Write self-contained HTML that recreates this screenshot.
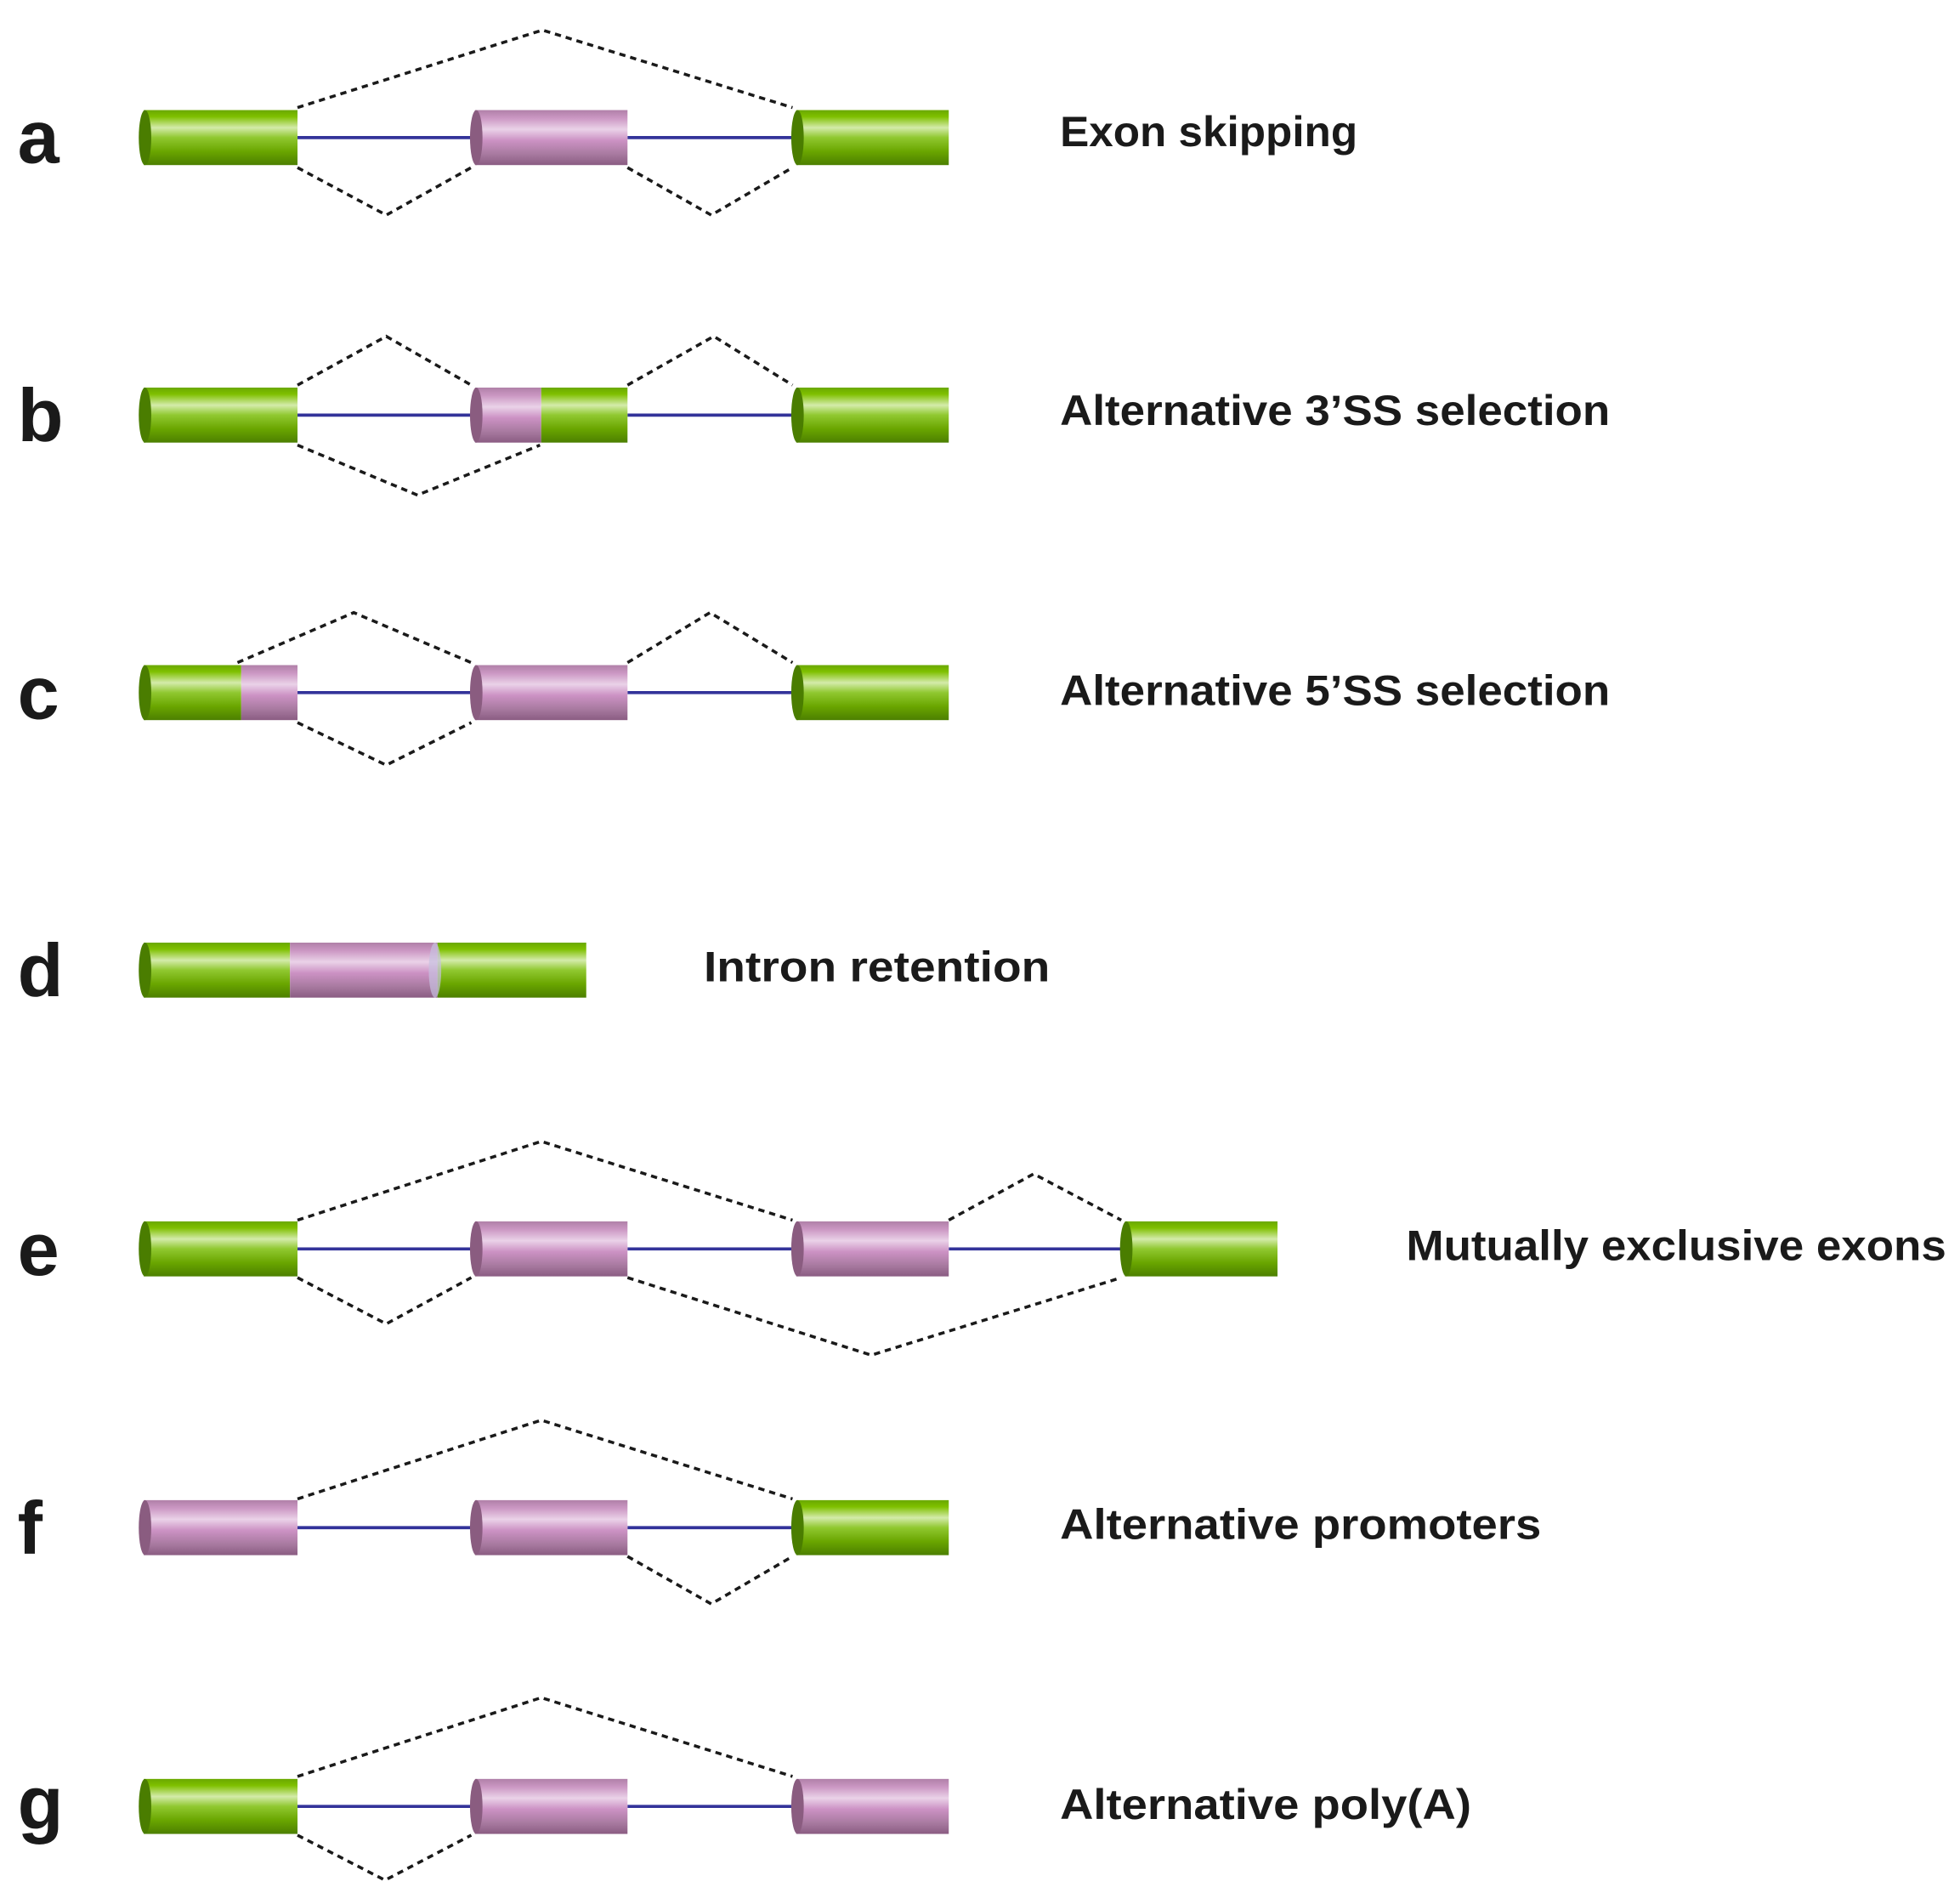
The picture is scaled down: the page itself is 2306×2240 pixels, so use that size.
<!DOCTYPE html>
<html><head><meta charset="utf-8"><style>html,body{margin:0;padding:0;background:#fff}svg{display:block}</style></head>
<body>
<svg width="2306" height="2240" viewBox="0 0 1568 1523" xmlns="http://www.w3.org/2000/svg">
<defs>
<linearGradient id="g" x1="0" y1="0" x2="0" y2="1">
<stop offset="0" stop-color="#6aa800"/><stop offset="0.12" stop-color="#7fc000"/><stop offset="0.32" stop-color="#d4ebaa"/><stop offset="0.5" stop-color="#90c830"/><stop offset="0.75" stop-color="#6aa600"/><stop offset="1" stop-color="#4c7f00"/>
</linearGradient>
<linearGradient id="p" x1="0" y1="0" x2="0" y2="1">
<stop offset="0" stop-color="#b080a8"/><stop offset="0.15" stop-color="#cc98c4"/><stop offset="0.35" stop-color="#ead2e8"/><stop offset="0.55" stop-color="#cc92c4"/><stop offset="0.8" stop-color="#a87aa0"/><stop offset="1" stop-color="#8a5c82"/>
</linearGradient>
</defs>
<g fill="none" stroke="#1a1a1a" stroke-width="2.4" stroke-dasharray="5,4">
<polyline points="238,86 434,24 634,86"/><polyline points="238,134 309,172 377,134"/><polyline points="502,134 569,172 634,134"/>
<polyline points="238,308 309,269 377,308"/><polyline points="502,308 571,269 634,308"/><polyline points="238,356 334,396 432,356"/>
<polyline points="190,530 283,490 377,530"/><polyline points="502,530 568,490 634,530"/><polyline points="238,578 309,612 377,578"/>
<polyline points="238,976 433,913 634,976"/><polyline points="759,976 827,939 897,976"/><polyline points="238,1022 309,1059 377,1022"/><polyline points="502,1022 697,1084 897,1022"/>
<polyline points="238,1199 433,1136 634,1199"/><polyline points="502,1245 569,1283 634,1245"/>
<polyline points="238,1421 433,1358 634,1421"/><polyline points="238,1468 308,1504 377,1468"/>
</g>
<g stroke="#33339a" stroke-width="2.5">
<line x1="238" y1="110" x2="377" y2="110"/><line x1="502" y1="110" x2="634" y2="110"/>
<line x1="238" y1="332" x2="377" y2="332"/><line x1="502" y1="332" x2="634" y2="332"/>
<line x1="238" y1="554" x2="377" y2="554"/><line x1="502" y1="554" x2="634" y2="554"/>
<line x1="238" y1="999" x2="377" y2="999"/><line x1="502" y1="999" x2="634" y2="999"/><line x1="759" y1="999" x2="897" y2="999"/>
<line x1="238" y1="1222" x2="377" y2="1222"/><line x1="502" y1="1222" x2="634" y2="1222"/>
<line x1="238" y1="1445" x2="377" y2="1445"/><line x1="502" y1="1445" x2="634" y2="1445"/>
</g>
<g>
<rect x="115" y="88" width="123" height="44" fill="url(#g)"/><ellipse cx="116" cy="110" rx="5" ry="22" fill="#4a7d00"/>
<rect x="380" y="88" width="122" height="44" fill="url(#p)"/><ellipse cx="381" cy="110" rx="5" ry="22" fill="#8a5c80"/>
<rect x="637" y="88" width="122" height="44" fill="url(#g)"/><ellipse cx="638" cy="110" rx="5" ry="22" fill="#4a7d00"/>
<rect x="115" y="310" width="123" height="44" fill="url(#g)"/><ellipse cx="116" cy="332" rx="5" ry="22" fill="#4a7d00"/>
<rect x="380" y="310" width="53" height="44" fill="url(#p)"/><rect x="433" y="310" width="69" height="44" fill="url(#g)"/><ellipse cx="381" cy="332" rx="5" ry="22" fill="#8a5c80"/>
<rect x="637" y="310" width="122" height="44" fill="url(#g)"/><ellipse cx="638" cy="332" rx="5" ry="22" fill="#4a7d00"/>
<rect x="115" y="532" width="78" height="44" fill="url(#g)"/><rect x="193" y="532" width="45" height="44" fill="url(#p)"/><ellipse cx="116" cy="554" rx="5" ry="22" fill="#4a7d00"/>
<rect x="380" y="532" width="122" height="44" fill="url(#p)"/><ellipse cx="381" cy="554" rx="5" ry="22" fill="#8a5c80"/>
<rect x="637" y="532" width="122" height="44" fill="url(#g)"/><ellipse cx="638" cy="554" rx="5" ry="22" fill="#4a7d00"/>
<rect x="115" y="754" width="117" height="44" fill="url(#g)"/><rect x="232" y="754" width="118" height="44" fill="url(#p)"/><rect x="350" y="754" width="119" height="44" fill="url(#g)"/><ellipse cx="116" cy="776" rx="5" ry="22" fill="#4a7d00"/>
<ellipse cx="348" cy="776" rx="5" ry="22" fill="#c8c0e0" opacity="0.7"/>
<rect x="115" y="977" width="123" height="44" fill="url(#g)"/><ellipse cx="116" cy="999" rx="5" ry="22" fill="#4a7d00"/>
<rect x="380" y="977" width="122" height="44" fill="url(#p)"/><ellipse cx="381" cy="999" rx="5" ry="22" fill="#8a5c80"/>
<rect x="637" y="977" width="122" height="44" fill="url(#p)"/><ellipse cx="638" cy="999" rx="5" ry="22" fill="#8a5c80"/>
<rect x="900" y="977" width="122" height="44" fill="url(#g)"/><ellipse cx="901" cy="999" rx="5" ry="22" fill="#4a7d00"/>
<rect x="115" y="1200" width="123" height="44" fill="url(#p)"/><ellipse cx="116" cy="1222" rx="5" ry="22" fill="#8a5c80"/>
<rect x="380" y="1200" width="122" height="44" fill="url(#p)"/><ellipse cx="381" cy="1222" rx="5" ry="22" fill="#8a5c80"/>
<rect x="637" y="1200" width="122" height="44" fill="url(#g)"/><ellipse cx="638" cy="1222" rx="5" ry="22" fill="#4a7d00"/>
<rect x="115" y="1423" width="123" height="44" fill="url(#g)"/><ellipse cx="116" cy="1445" rx="5" ry="22" fill="#4a7d00"/>
<rect x="380" y="1423" width="122" height="44" fill="url(#p)"/><ellipse cx="381" cy="1445" rx="5" ry="22" fill="#8a5c80"/>
<rect x="637" y="1423" width="122" height="44" fill="url(#p)"/><ellipse cx="638" cy="1445" rx="5" ry="22" fill="#8a5c80"/>
</g>
<g font-family="Liberation Sans, sans-serif" font-weight="bold" fill="#1a1a1a">
<g font-size="60">
<text x="14" y="130">a</text><text x="14" y="353">b</text><text x="14" y="575">c</text><text x="14" y="797">d</text><text x="14" y="1020">e</text><text x="14" y="1243">f</text><text x="14" y="1463">g</text>
</g>
<g font-size="34">
<text x="848" y="117" textLength="238" lengthAdjust="spacingAndGlyphs">Exon skipping</text>
<text x="848" y="340" textLength="440" lengthAdjust="spacingAndGlyphs">Alternative 3’SS selection</text>
<text x="848" y="564" textLength="440" lengthAdjust="spacingAndGlyphs">Alternative 5’SS selection</text>
<text x="563" y="785" textLength="277" lengthAdjust="spacingAndGlyphs">Intron retention</text>
<text x="1125" y="1008" textLength="432" lengthAdjust="spacingAndGlyphs">Mutually exclusive exons</text>
<text x="848" y="1231" textLength="385" lengthAdjust="spacingAndGlyphs">Alternative promoters</text>
<text x="848" y="1455" textLength="329" lengthAdjust="spacingAndGlyphs">Alternative poly(A)</text>
</g>
</g>
</svg>
</body></html>
